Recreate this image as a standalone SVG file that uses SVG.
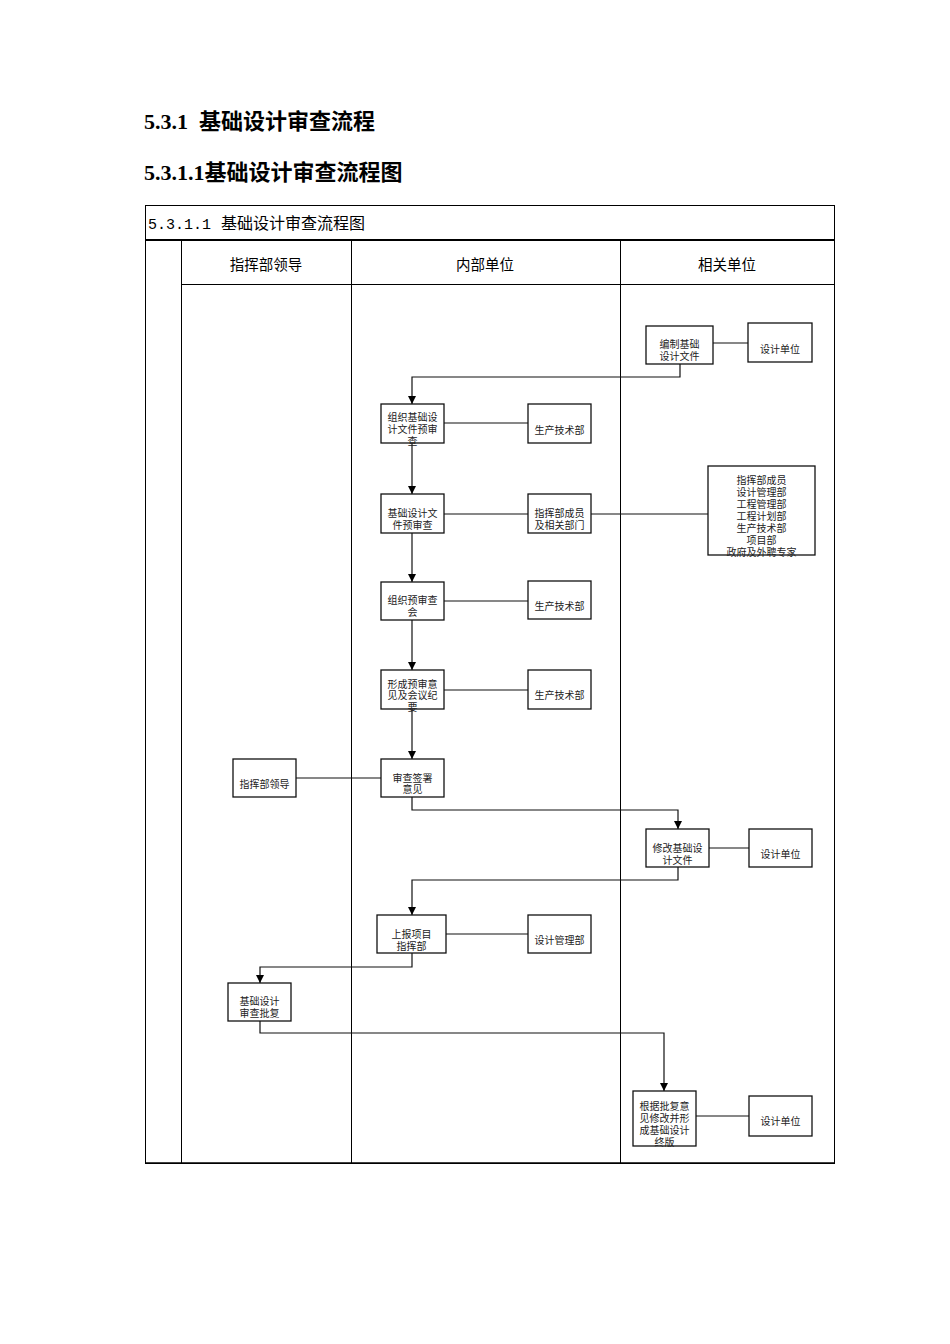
<svg xmlns="http://www.w3.org/2000/svg" width="950" height="1344" viewBox="0 0 950 1344">
<defs>
<style>
.h{font-family:"Liberation Serif","Noto Sans CJK SC",serif;font-weight:bold;font-size:22px;fill:#000}
.t{font-family:"Liberation Serif","Noto Sans CJK SC",serif;font-size:16px;fill:#000}
.tm{font-family:"Liberation Mono",monospace;font-size:15px;fill:#000}
.hd{font-family:"Liberation Serif","Noto Sans CJK SC",serif;font-size:14.5px;fill:#000;text-anchor:middle}
.n{font-family:"Liberation Serif","Noto Sans CJK SC",serif;font-size:10px;fill:#222;text-anchor:middle}
.box{fill:#fff;stroke:#111;stroke-width:1.3}
.grid{fill:none;stroke:#000;stroke-width:1}
.c{fill:none;stroke:#111;stroke-width:1.2}
</style>
<marker id="ar" markerWidth="8" markerHeight="8" refX="8" refY="4" orient="auto" markerUnits="userSpaceOnUse" viewBox="0 0 8 8">
<path d="M0,0 L8,4 L0,8 Z" fill="#000"/>
</marker>
</defs>
<rect width="950" height="1344" fill="#fff"/>
<text class="h" x="144" y="129">5.3.1</text><text class="h" x="199" y="129">基础设计审查流程</text>
<text class="h" x="144" y="180">5.3.1.1基础设计审查流程图</text>
<g id="frame">
<rect class="grid" x="145.5" y="205.5" width="689" height="958"/>
<line x1="145" y1="240" x2="835" y2="240" stroke="#000" stroke-width="2"/>
<line class="grid" x1="181.5" y1="240" x2="181.5" y2="1163"/>
<line class="grid" x1="351.5" y1="240" x2="351.5" y2="1163"/>
<line class="grid" x1="620.5" y1="240" x2="620.5" y2="1163"/>
<line class="grid" x1="181" y1="284.5" x2="835" y2="284.5"/>
<line x1="145" y1="1163" x2="835" y2="1163" stroke="#000" stroke-width="1.5"/>
<text class="tm" x="148" y="229">5.3.1.1</text><text class="t" x="221" y="229">基础设计审查流程图</text>
<text class="hd" x="266" y="270">指挥部领导</text>
<text class="hd" x="485" y="270">内部单位</text>
<text class="hd" x="727" y="270">相关单位</text>
</g>
<g id="connectors">
<polyline class="c" points="713,343 748,343"/>
<polyline class="c" points="680,364 680,377 412,377 412,404" marker-end="url(#ar)"/>
<polyline class="c" points="444,423 528,423"/>
<polyline class="c" points="412,443 412,494" marker-end="url(#ar)"/>
<polyline class="c" points="444,514 528,514"/>
<polyline class="c" points="591,514 708,514"/>
<polyline class="c" points="412,533 412,582" marker-end="url(#ar)"/>
<polyline class="c" points="444,601 528,601"/>
<polyline class="c" points="412,620 412,670" marker-end="url(#ar)"/>
<polyline class="c" points="444,690 528,690"/>
<polyline class="c" points="412,709 412,759" marker-end="url(#ar)"/>
<polyline class="c" points="296,778 381,778"/>
<polyline class="c" points="412,797 412,810 678,810 678,829" marker-end="url(#ar)"/>
<polyline class="c" points="709,848 749,848"/>
<polyline class="c" points="678,867 678,880 412,880 412,915" marker-end="url(#ar)"/>
<polyline class="c" points="446,934 528,934"/>
<polyline class="c" points="412,953 412,967 260,967 260,983" marker-end="url(#ar)"/>
<polyline class="c" points="260,1021 260,1033 664,1033 664,1091" marker-end="url(#ar)"/>
<polyline class="c" points="696,1116 749,1116"/>
</g>
<g id="n1"><rect class="box" x="646" y="326" width="67" height="38"/><text class="n" x="679.5" y="348">编制基础</text><text class="n" x="679.5" y="360">设计文件</text></g>
<g id="n1b"><rect class="box" x="748" y="323" width="64" height="39"/><text class="n" x="780" y="353">设计单位</text></g>
<g id="n2"><rect class="box" x="381" y="404" width="63" height="39"/><text class="n" x="412.5" y="421">组织基础设</text><text class="n" x="412.5" y="433">计文件预审</text><text class="n" x="412.5" y="445">查</text></g>
<g id="n2b"><rect class="box" x="528" y="404" width="63" height="39"/><text class="n" x="559.5" y="434">生产技术部</text></g>
<g id="n3"><rect class="box" x="381" y="494" width="63" height="39"/><text class="n" x="412.5" y="517">基础设计文</text><text class="n" x="412.5" y="529">件预审查</text></g>
<g id="n3b"><rect class="box" x="528" y="494" width="63" height="39"/><text class="n" x="559.5" y="517">指挥部成员</text><text class="n" x="559.5" y="529">及相关部门</text></g>
<g id="n3c"><rect class="box" x="708" y="466" width="107" height="89"/>
<text class="n" x="761.5" y="484">指挥部成员</text><text class="n" x="761.5" y="496">设计管理部</text><text class="n" x="761.5" y="508">工程管理部</text><text class="n" x="761.5" y="520">工程计划部</text><text class="n" x="761.5" y="532">生产技术部</text><text class="n" x="761.5" y="544">项目部</text><text class="n" x="761.5" y="556">政府及外聘专家</text></g>
<g id="n4"><rect class="box" x="381" y="582" width="63" height="38"/><text class="n" x="412.5" y="604">组织预审查</text><text class="n" x="412.5" y="616">会</text></g>
<g id="n4b"><rect class="box" x="528" y="581" width="63" height="38"/><text class="n" x="559.5" y="610">生产技术部</text></g>
<g id="n5"><rect class="box" x="381" y="670" width="63" height="39"/><text class="n" x="412.5" y="688">形成预审意</text><text class="n" x="412.5" y="699">见及会议纪</text><text class="n" x="412.5" y="711">要</text></g>
<g id="n5b"><rect class="box" x="528" y="670" width="63" height="39"/><text class="n" x="559.5" y="699">生产技术部</text></g>
<g id="n6"><rect class="box" x="381" y="759" width="63" height="38"/><text class="n" x="412.5" y="782">审查签署</text><text class="n" x="412.5" y="793">意见</text></g>
<g id="n6b"><rect class="box" x="233" y="759" width="63" height="38"/><text class="n" x="264.5" y="788">指挥部领导</text></g>
<g id="n7"><rect class="box" x="646" y="829" width="63" height="38"/><text class="n" x="677.5" y="852">修改基础设</text><text class="n" x="677.5" y="864">计文件</text></g>
<g id="n7b"><rect class="box" x="749" y="829" width="63" height="38"/><text class="n" x="780.5" y="858">设计单位</text></g>
<g id="n8"><rect class="box" x="377" y="915" width="69" height="38"/><text class="n" x="411.5" y="938">上报项目</text><text class="n" x="411.5" y="950">指挥部</text></g>
<g id="n8b"><rect class="box" x="528" y="915" width="63" height="38"/><text class="n" x="559.5" y="944">设计管理部</text></g>
<g id="n9"><rect class="box" x="228" y="983" width="63" height="38"/><text class="n" x="259.5" y="1005">基础设计</text><text class="n" x="259.5" y="1017">审查批复</text></g>
<g id="n10"><rect class="box" x="633" y="1091" width="63" height="55"/><text class="n" x="664.5" y="1110">根据批复意</text><text class="n" x="664.5" y="1122">见修改并形</text><text class="n" x="664.5" y="1134">成基础设计</text><text class="n" x="664.5" y="1146">终版</text></g>
<g id="n10b"><rect class="box" x="749" y="1096" width="63" height="40"/><text class="n" x="780.5" y="1125">设计单位</text></g>
</svg>
